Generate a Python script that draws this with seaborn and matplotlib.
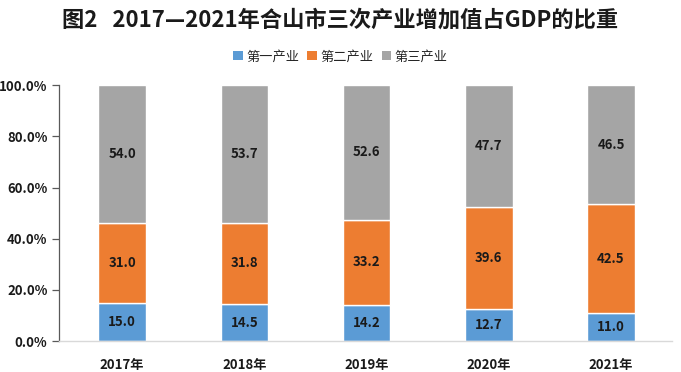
import matplotlib
matplotlib.use("Agg")
import matplotlib.pyplot as plt
import seaborn as sns
import numpy as np
import pandas as pd
from matplotlib.ticker import FuncFormatter
from matplotlib.patches import Patch

years = ["2017年", "2018年", "2019年", "2020年", "2021年"]
primary = [15.0, 14.5, 14.2, 12.7, 11.0]
secondary = [31.0, 31.8, 33.2, 39.6, 42.5]
tertiary = [54.0, 53.7, 52.6, 47.7, 46.5]
series_names = ["第一产业", "第二产业", "第三产业"]
colors = ["#5B9BD5", "#ED7D31", "#A5A5A5"]
title = "图2   2017—2021年合山市三次产业增加值占GDP的比重"

sns.set_theme(style="white")
plt.rcParams['font.family'] = ['Noto Sans CJK SC', 'DejaVu Sans']

fig = plt.figure(figsize=(6.81, 3.72), dpi=100)
ax = fig.add_axes([0.086, 0.083, 0.901, 0.688])

bottoms = [np.zeros(len(years)), np.array(primary), np.array(primary) + np.array(secondary)]
vals = [primary, secondary, tertiary]
for v, b, c, name in zip(vals, bottoms, colors, series_names):
    sns.barplot(x=years, y=v, bottom=b, color=c, width=0.39, ax=ax,
                saturation=1, label=name, legend=False)

for i in range(len(years)):
    for v, b in zip(vals, bottoms):
        ax.text(i, b[i] + v[i] / 2, f"{v[i]:.1f}", ha="center", va="center",
                fontsize=9.5, fontweight="bold", color="#1a1a1a")

ax.set_xlim(-0.52, 4.5)
ax.set_ylim(0, 100)
ax.set_yticks([0, 20, 40, 60, 80, 100])
ax.yaxis.set_major_formatter(FuncFormatter(lambda v, p: f"{v:.1f}%"))
ax.set_xlabel("")
ax.set_ylabel("")
for s in ["top", "right"]:
    ax.spines[s].set_visible(False)
ax.spines["left"].set_color("#595959")
ax.spines["left"].set_linewidth(0.9)
ax.spines["bottom"].set_color("#D9D9D9")
ax.spines["bottom"].set_linewidth(1.0)
ax.tick_params(axis="y", which="major", left=True, length=5, width=0.9, color="#595959",
               labelsize=9.5, pad=3)
ax.tick_params(axis="x", bottom=False, labelsize=9.5, pad=6)
for lab in ax.get_yticklabels() + ax.get_xticklabels():
    lab.set_fontweight("bold")
    lab.set_color("#1a1a1a")

handles = [Patch(facecolor=c, edgecolor="none") for c in colors]
fig.legend(handles, series_names, loc="center", bbox_to_anchor=(0.5, 0.847), ncol=3,
           frameon=False, fontsize=9.5, handlelength=0.7, handleheight=0.7,
           handletextpad=0.3, columnspacing=0.6)

fig.text(0.5, 0.946, title, ha="center", va="center", fontsize=16, fontweight="bold",
         color="#1a1a1a")

fig.savefig("out.png", dpi=100)
